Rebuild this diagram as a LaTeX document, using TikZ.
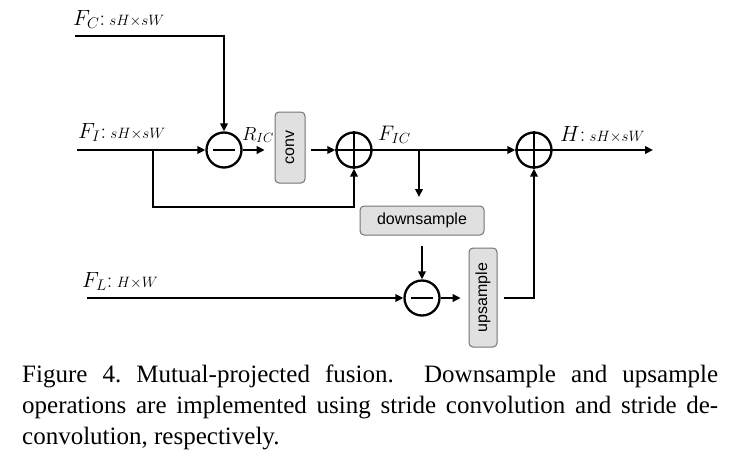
\RequirePackage{fix-cm}
\documentclass[tikz,border=0pt]{standalone}
\usepackage{fontspec}
\newfontfamily\sansf{Liberation Sans}
\newfontfamily\capf{Liberation Serif}
\usetikzlibrary{arrows.meta}
\newcommand\biglab[1]{{\fontsize{22}{22}\selectfont$#1$:}}
\newcommand\smlab[1]{{\fontsize{15}{15}\selectfont$#1$}}
\begin{document}
\begin{tikzpicture}[x=1pt,y=-1pt,
  wire/.style={line width=2.3pt},
  arr/.style={wire,-{Triangle[length=8pt,width=7.5pt]}},
  opc/.style={circle,draw,line width=2.3pt,minimum size=35pt,inner sep=0pt},
  blk/.style={draw=black!55,fill=black!12,rounded corners=4pt,line width=1pt,inner sep=0pt,font=\sansf\fontsize{16}{16}\selectfont},
  lab/.style={anchor=base west,inner sep=0pt},
  captext/.style={anchor=base west,inner sep=0pt,font=\capf\fontsize{25}{25}\selectfont\frenchspacing}]
\useasboundingbox (0,0) rectangle (736,466);
% operator nodes
\node[opc] (m1) at (224,150) {};
\node[opc] (p1) at (354,150) {};
\node[opc] (p2) at (534,150) {};
\node[opc] (m2) at (422,298) {};
\draw[wire] ([xshift=-11pt]m1.center) -- ([xshift=11pt]m1.center);
\draw[wire] ([xshift=-11pt]m2.center) -- ([xshift=11pt]m2.center);
\draw[wire] (p1.north) -- (p1.south) (p1.west) -- (p1.east);
\draw[wire] (p2.north) -- (p2.south) (p2.west) -- (p2.east);
% blocks
\node[blk,rotate=90,minimum width=71pt,minimum height=30pt] (conv) at (290,147.5) {conv};
\node[blk,minimum width=124pt,minimum height=29pt] (down) at (422,220.5) {downsample};
\node[blk,rotate=90,minimum width=99pt,minimum height=28pt] (up) at (483,297.5) {upsample};
% labels
\node[lab] (fc) at (73,25) {\biglab{F_C} \smlab{sH{\times}sW}};
\node[lab] (fi) at (78,138) {\biglab{F_I} \smlab{sH{\times}sW}};
\node[lab] (fl) at (82,287) {\biglab{F_L} \smlab{H{\times}W}};
\node[lab] (ric) at (242,140) {\fontsize{19}{19}\selectfont$R_{IC}$};
\node[lab] (fic) at (378,140) {\fontsize{21}{21}\selectfont$F_{IC}$};
\node[lab] (hl) at (560,141) {\biglab{H} \smlab{sH{\times}sW}};
% coordinates
\coordinate (cs) at (75,36);
\coordinate (is) at (77,150);
\coordinate (ib) at (153,150);
\coordinate (ls) at (87,298);
\coordinate (fb) at (419,150);
\coordinate (out) at (653,150);
% connectors
\draw[arr] (cs) -| (m1.north);
\draw[arr] (is) -- (m1.west);
\draw[arr] (ib) -- ++(0,57) -| (p1.south);
\draw[arr] (m1.east) -- ++(22,0);
\draw[arr,shorten <=5pt] (conv.south |- p1.west) -- (p1.west);
\draw[arr] (p1.east) -- (p2.west);
\draw[arr] (fb) -- ++(0,47);
\draw[arr,shorten <=10pt] (down.south -| m2.north) -- (m2.north);
\draw[arr] (ls) -- (m2.west);
\draw[arr] (m2.east) -- ++(20,0);
\draw[arr,shorten <=6pt] (up.south |- m2.east) -| (p2.south);
\draw[arr] (p2.east) -- (out);
% caption
\node[captext] (c1) at (22,382) {\makebox[696pt][s]{Figure 4. Mutual-projected fusion.\ \ Downsample and upsample}};
\node[captext] (c2) at (22,413) {\makebox[696pt][s]{operations are implemented using stride convolution and stride de-}};
\node[captext] (c3) at (22,444) {convolution, respectively.};
\end{tikzpicture}
\end{document}
